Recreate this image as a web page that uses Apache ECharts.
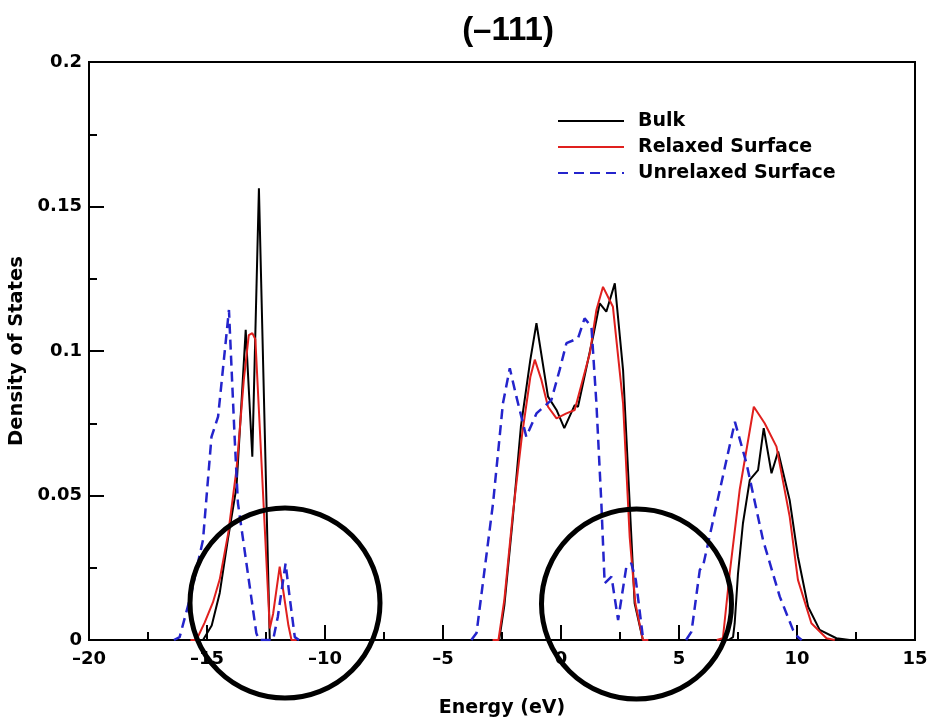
<!DOCTYPE html>
<html>
<head>
<meta charset="utf-8">
<title>Density of States (-111)</title>
<script src="https://cdn.jsdelivr.net/npm/echarts@6/dist/echarts.min.js"></script>
<style>
  html, body { margin: 0; padding: 0; background: #fff; }
  #chart { width: 931px; height: 720px; }
</style>
</head>
<body>
<div id="chart"></div>
<script>
// Series names shown in the legend
const seriesNames = ['Bulk', 'Relaxed Surface', 'Unrelaxed Surface'];

// Density of states, [energy (eV), DOS] pairs, one array per band
const bulkLower = [[-15.4, 0], [-15.17, 0], [-14.8, 0.005], [-14.46, 0.0163], [-14.12, 0.0346], [-13.75, 0.053],
  [-13.54, 0.082], [-13.36, 0.1073], [-13.08, 0.0634], [-12.8, 0.1563], [-12.34, 0], [-12.1, 0]];
const bulkMiddle = [[-2.85, 0], [-2.62, 0], [-2.4, 0.012], [-2.05, 0.0415], [-1.7, 0.0738], [-1.3, 0.0969],
  [-1.04, 0.1096], [-0.55, 0.0842], [-0.19, 0.0796], [0.14, 0.0733], [0.58, 0.0813], [0.72, 0.0807],
  [1.36, 0.105], [1.64, 0.1165], [1.92, 0.1136], [2.28, 0.1234], [2.63, 0.0934], [2.91, 0.0473],
  [3.12, 0.0127], [3.47, 0], [3.7, 0]];
const bulkUpper = [[7.1, 0], [7.29, 0.001], [7.36, 0.0058], [7.5, 0.023], [7.71, 0.0404], [8.0, 0.0554],
  [8.35, 0.0588], [8.59, 0.0733], [8.92, 0.0577], [9.2, 0.0652], [9.69, 0.0484], [10.04, 0.0288],
  [10.47, 0.0115], [10.96, 0.0035], [11.67, 0.0006], [12.23, 0]];

const relaxedLower = [[-15.7, 0], [-15.45, 0], [-15.1, 0.006], [-14.75, 0.013], [-14.46, 0.021], [-14.1, 0.037],
  [-13.75, 0.059], [-13.44, 0.09], [-13.23, 0.1055], [-13.08, 0.1062], [-12.95, 0.104], [-12.34, 0.004],
  [-12.2, 0.009], [-11.92, 0.0254], [-11.75, 0.016], [-11.55, 0.005], [-11.42, 0], [-11.2, 0]];
const relaxedMiddle = [[-2.9, 0], [-2.65, 0], [-2.4, 0.014], [-2.05, 0.043], [-1.65, 0.071], [-1.3, 0.091],
  [-1.11, 0.097], [-0.83, 0.09], [-0.55, 0.0807], [-0.19, 0.0767], [0.23, 0.0784], [0.58, 0.0796],
  [1.22, 0.0992], [1.5, 0.1142], [1.78, 0.1222], [2.2, 0.1153], [2.63, 0.0819], [2.91, 0.0357],
  [3.15, 0.0127], [3.47, 0], [3.7, 0]];
const relaxedUpper = [[6.6, 0], [6.86, 0.0006], [7.15, 0.0232], [7.57, 0.0519], [8.17, 0.0807], [8.63, 0.075],
  [9.13, 0.0669], [9.69, 0.0427], [10.04, 0.0208], [10.61, 0.0058], [11.25, 0.0006], [11.6, 0]];

const unrelaxedLower = [[-16.4, 0], [-16.16, 0.001], [-15.7, 0.015], [-15.17, 0.0346], [-14.81, 0.0703],
  [-14.53, 0.0773], [-14.07, 0.1142], [-13.83, 0.0703], [-13.69, 0.0474], [-13.33, 0.0266], [-12.91, 0.0024],
  [-12.8, 0], [-12.2, 0], [-12.0, 0.008], [-11.67, 0.0265], [-11.5, 0.015], [-11.28, 0.001], [-11.1, 0]];
const unrelaxedMiddle = [[-3.8, 0], [-3.58, 0.0024], [-2.88, 0.0473], [-2.46, 0.0819], [-2.17, 0.094],
  [-1.89, 0.0842], [-1.47, 0.0703], [-1.04, 0.0784], [-0.41, 0.083], [-0.06, 0.0934], [0.23, 0.1027],
  [0.72, 0.1044], [1.0, 0.1113], [1.29, 0.1084], [1.5, 0.0819], [1.71, 0.0473], [1.85, 0.0196],
  [2.14, 0.0219], [2.42, 0.0069], [2.77, 0.0254], [2.98, 0.0265], [3.17, 0.0208], [3.47, 0.001], [3.6, 0]];
const unrelaxedUpper = [[5.3, 0], [5.53, 0.0029], [5.88, 0.0242], [6.03, 0.026], [6.73, 0.0519], [7.37, 0.0755],
  [7.86, 0.0611], [8.56, 0.0346], [9.27, 0.015], [9.83, 0.0035], [10.04, 0.001], [10.2, 0]];

// Axis ranges
const energyRange = [-20, 15];
const dosRange = [0, 0.2];

// Join bands into one series, leaving a gap between bands
function joinBands(bands) {
  const out = [];
  bands.forEach((band, i) => {
    if (i > 0) out.push(['-', '-']);
    band.forEach(p => out.push(p));
  });
  return out;
}

const FONT = 'DejaVu Sans';
const chart = echarts.init(document.getElementById('chart'), null, { renderer: 'canvas' });

const tickStyle = { color: '#000', width: 2 };
const labelStyle = { color: '#000', fontFamily: FONT, fontWeight: 'bold', fontSize: 18 };

function lineSeries(name, data, color, width, type) {
  return {
    name: name,
    type: 'line',
    data: data,
    symbol: 'none',
    showSymbol: false,
    connectNulls: false,
    animation: false,
    itemStyle: { color: color },
    lineStyle: { color: color, width: width, type: type }
  };
}

chart.setOption({
  backgroundColor: '#fff',
  animation: false,
  title: {
    text: '(\u2013111)',
    left: 503,
    top: 9,
    textAlign: 'center',
    textStyle: { fontFamily: 'Liberation Sans', fontWeight: 'bold', fontSize: 33, color: '#000' }
  },
  legend: {
    orient: 'vertical',
    left: 552,
    top: 106,
    itemWidth: 66,
    itemHeight: 14,
    itemGap: 6,
    data: seriesNames,
    // show only the line sample, no marker dot
    itemStyle: { opacity: 0 },
    textStyle: { fontFamily: FONT, fontWeight: 'bold', fontSize: 19, color: '#000', lineHeight: 20, padding: [0, 0, 0, 9] }
  },
  grid: {
    left: 89, right: 16, top: 62, bottom: 80,
    outerBoundsMode: 'none',
    containLabel: false,
    show: true, borderColor: '#000', borderWidth: 2
  },
  xAxis: {
    type: 'value',
    min: energyRange[0], max: energyRange[1], interval: 5,
    name: 'Energy (eV)',
    nameLocation: 'middle',
    nameGap: 59,
    nameTextStyle: { color: '#000', fontFamily: FONT, fontWeight: 'bold', fontSize: 19 },
    axisLine: { onZero: false, lineStyle: tickStyle },
    axisTick: { inside: true, length: 15, lineStyle: tickStyle },
    minorTick: { show: true, splitNumber: 2, length: 8, lineStyle: tickStyle },
    splitLine: { show: false },
    minorSplitLine: { show: false },
    axisLabel: Object.assign({ margin: 10, formatter: v => String(v).replace('-', '\u2013') }, labelStyle)
  },
  yAxis: {
    type: 'value',
    min: dosRange[0], max: dosRange[1], interval: 0.05,
    name: 'Density of States',
    nameLocation: 'middle',
    nameGap: 57,
    nameTextStyle: { color: '#000', fontFamily: FONT, fontWeight: 'bold', fontSize: 19.5 },
    axisLine: { onZero: false, lineStyle: tickStyle },
    axisTick: { inside: true, length: 15, lineStyle: tickStyle },
    minorTick: { show: true, splitNumber: 2, length: 8, lineStyle: tickStyle },
    splitLine: { show: false },
    minorSplitLine: { show: false },
    axisLabel: Object.assign({ margin: 7 }, labelStyle)
  },
  series: [
    lineSeries(seriesNames[0], joinBands([bulkLower, bulkMiddle, bulkUpper]), '#000000', 2, 'solid'),
    lineSeries(seriesNames[1], joinBands([relaxedLower, relaxedMiddle, relaxedUpper]), '#e0201e', 2, 'solid'),
    lineSeries(seriesNames[2], joinBands([unrelaxedLower, unrelaxedMiddle, unrelaxedUpper]), '#2424cc', 2.5, [10, 6])
  ],
  graphic: [
    { type: 'circle', z: 100, shape: { cx: 285, cy: 603, r: 95 }, style: { fill: 'none', stroke: '#000', lineWidth: 5 } },
    { type: 'circle', z: 100, shape: { cx: 636.5, cy: 604, r: 95 }, style: { fill: 'none', stroke: '#000', lineWidth: 5 } }
  ]
});
</script>
</body>
</html>
